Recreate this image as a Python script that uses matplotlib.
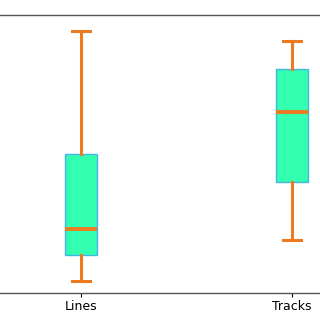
import matplotlib
matplotlib.use("Agg")
import matplotlib.pyplot as plt

# box statistics (arbitrary units, axis 0..1)
labels = ["Lines", "Tracks"]
whislo = [0.043, 0.191]
q1 = [0.137, 0.399]
med = [0.230, 0.651]
q3 = [0.500, 0.806]
whishi = [0.942, 0.906]

stats = []
for i in range(len(labels)):
    stats.append(dict(label=labels[i], whislo=whislo[i], q1=q1[i], med=med[i],
                      q3=q3[i], whishi=whishi[i], fliers=[]))

fig = plt.figure(figsize=(3.2, 3.2), dpi=100)
# the axes run past the left and right edges of the figure (cropped source)
ax = fig.add_axes([-24.5 / 320, 27 / 320, 422 / 320, 278 / 320])

orange = "#ee7a1f"
ax.bxp(stats, widths=0.15, patch_artist=True, showfliers=False,
       boxprops=dict(facecolor="#33ffb0", edgecolor="#45b4e6", linewidth=1.0),
       whiskerprops=dict(color=orange, linewidth=2.2),
       capprops=dict(color=orange, linewidth=2.2),
       medianprops=dict(color=orange, linewidth=2.8),
       capwidths=0.09)

ax.set_xlim(0.5, 2.5)
ax.set_ylim(0, 1)
ax.set_yticks([])
ax.tick_params(axis="x", length=3, labelsize=9, pad=2)
for s in ax.spines.values():
    s.set_color("#555555")
    s.set_linewidth(1.0)

fig.savefig("out.png", dpi=100)
